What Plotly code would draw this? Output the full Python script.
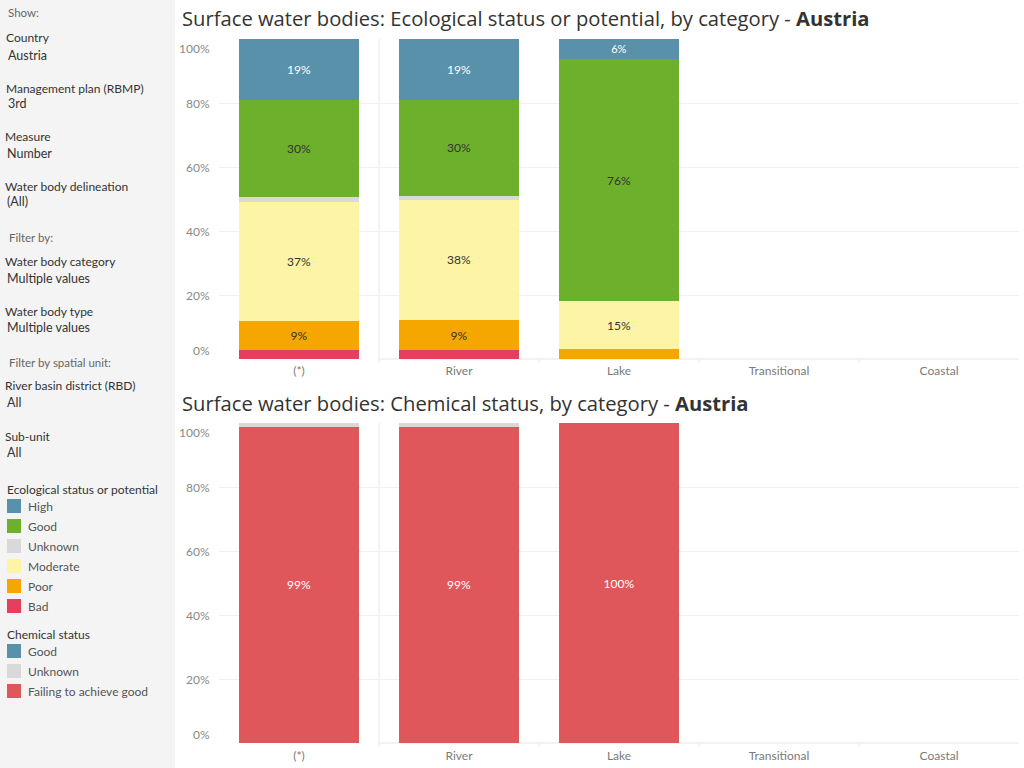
import plotly.graph_objects as go

W, H = 1024, 768
FONT = "Lato"
TITLE_FONT = "Open Sans"

categories = ["(*)", "River", "Lake", "Transitional", "Coastal"]

# Ecological status (% of water bodies), stacked bottom -> top
eco_bad = [2.8, 2.8, 0.0, None, None]
eco_poor = [9.0, 9.4, 3.1, None, None]
eco_moderate = [37.4, 37.6, 14.9, None, None]
eco_unknown = [1.3, 1.2, 0.0, None, None]
eco_good = [30.4, 30.0, 75.8, None, None]
eco_high = [19.1, 19.0, 6.2, None, None]

# Chemical status (%)
chem_failing = [98.8, 98.8, 100.0, None, None]
chem_unknown = [1.2, 1.2, 0.0, None, None]
chem_good = [0.0, 0.0, 0.0, None, None]

y_ticks = [0, 20, 40, 60, 80, 100]
y_tick_labels = ["0%", "20%", "40%", "60%", "80%", "100%"]

C_HIGH = "#5891a9"
C_GOOD = "#6db02c"
C_UNK = "#d9d9d9"
C_MOD = "#fef4a6"
C_POOR = "#f5a700"
C_BAD = "#e53f5e"
C_FAIL = "#e0575b"


def px_x(p):
    return p / W


def px_y(p):
    return 1 - p / H


def labels(vals):
    return [f"{round(v)}%" if (v is not None and v >= 5) else "" for v in vals]


fig = go.Figure()

eco_series = [
    ("Bad", eco_bad, C_BAD, "#333333"),
    ("Poor", eco_poor, C_POOR, "#333333"),
    ("Moderate", eco_moderate, C_MOD, "#333333"),
    ("Unknown", eco_unknown, C_UNK, "#333333"),
    ("Good", eco_good, C_GOOD, "#333333"),
    ("High", eco_high, C_HIGH, "#ffffff"),
]
for name, vals, col, tcol in eco_series:
    fig.add_trace(go.Bar(
        x=categories, y=vals, name=name, marker=dict(color=col, line=dict(width=0)),
        text=labels(vals), texttemplate="%{text}", textposition="inside",
        insidetextanchor="middle", textangle=0,
        textfont=dict(family=FONT, size=12, color=tcol),
        xaxis="x", yaxis="y", showlegend=False,
    ))

chem_series = [
    ("Failing to achieve good", chem_failing, C_FAIL, "#ffffff"),
    ("Unknown", chem_unknown, C_UNK, "#333333"),
    ("Good", chem_good, C_HIGH, "#ffffff"),
]
for name, vals, col, tcol in chem_series:
    fig.add_trace(go.Bar(
        x=categories, y=vals, name=name, marker=dict(color=col, line=dict(width=0)),
        text=labels(vals), texttemplate="%{text}", textposition="inside",
        insidetextanchor="middle", textangle=0,
        textfont=dict(family=FONT, size=12, color=tcol),
        xaxis="x2", yaxis="y2", showlegend=False,
    ))

x_dom = [px_x(219), px_x(1019)]
top_dom = [px_y(359), px_y(39)]
bot_dom = [px_y(743), px_y(423)]

xaxis_common = dict(
    type="category", categoryorder="array", categoryarray=categories,
    range=[-0.5, 4.5], domain=x_dom, showgrid=False, zeroline=False,
    showline=False, ticks="", tickfont=dict(family=FONT, size=12, color="#7a7a7a"),
    ticklabelstandoff=3, fixedrange=True,
)
yaxis_common = dict(
    range=[0, 100], tickvals=y_ticks, showticklabels=False, showgrid=True,
    gridcolor="#f0f0f0", gridwidth=1, zeroline=False, showline=False, fixedrange=True,
)

fig.update_layout(
    width=W, height=H, margin=dict(l=0, r=0, t=0, b=0),
    paper_bgcolor="white", plot_bgcolor="rgba(0,0,0,0)",
    barmode="stack", bargap=0.25,
    font=dict(family=FONT, color="#333333"),
    xaxis=dict(xaxis_common, anchor="y"),
    yaxis=dict(yaxis_common, domain=top_dom, anchor="x"),
    xaxis2=dict(xaxis_common, anchor="y2", ticklabelstandoff=4),
    yaxis2=dict(yaxis_common, domain=bot_dom, anchor="x2"),
    showlegend=False,
)

shapes = []
annotations = []

# left panel background
shapes.append(dict(type="rect", xref="paper", yref="paper", x0=0, x1=px_x(175), y0=0, y1=1,
                   fillcolor="#f4f4f4", line=dict(width=0), layer="below"))

# separators, baselines and small ticks
for xa, ya, dom in [("x", "y", top_dom), ("x2", "y2", bot_dom)]:
    base = dom[0]
    shapes.append(dict(type="line", xref=xa, yref="paper", x0=0.5, x1=0.5, y0=base - 4 / H, y1=dom[1],
                       line=dict(color="#e6e6e6", width=1), layer="below"))
    shapes.append(dict(type="line", xref=xa, yref="paper", x0=0.5, x1=4.5, y0=base, y1=base,
                       line=dict(color="#e6e6e6", width=1), layer="below"))
    for xv in [1.5, 2.5, 3.5]:
        shapes.append(dict(type="line", xref=xa, yref="paper", x0=xv, x1=xv, y0=base - 4 / H, y1=base,
                           line=dict(color="#e6e6e6", width=1), layer="below"))
    # y tick labels
    for v, t in zip(y_ticks, y_tick_labels):
        shift = 9 if v == 0 else (-9 if v == 100 else 0)
        annotations.append(dict(xref="paper", yref=ya, x=px_x(212), y=v, yshift=shift,
                                text=t, showarrow=False, xanchor="right", yanchor="middle",
                                font=dict(family=FONT, size=12, color="#8a8a8a")))

# titles
annotations.append(dict(xref="paper", yref="paper", x=px_x(180), y=px_y(18), xanchor="left", yanchor="middle",
                        text="Surface water bodies: Ecological status or potential, by category - <b>Austria</b>",
                        showarrow=False, font=dict(family=TITLE_FONT, size=20.2, color="#333333")))
annotations.append(dict(xref="paper", yref="paper", x=px_x(180), y=px_y(403), xanchor="left", yanchor="middle",
                        text="Surface water bodies: Chemical status, by category - <b>Austria</b>",
                        showarrow=False, font=dict(family=TITLE_FONT, size=20.2, color="#333333")))

# left panel texts
panel_texts = [
    ("Show:", 6, 12, 11.5, "#666666"),
    ("Country", 4, 38, 12, "#333333"),
    ("Austria", 6, 55, 12.5, "#333333"),
    ("Management plan (RBMP)", 4, 88, 12, "#333333"),
    ("3rd", 6, 104, 12.5, "#333333"),
    ("Measure", 3, 136, 12, "#333333"),
    ("Number", 5, 153, 12.5, "#333333"),
    ("Water body delineation", 3, 186, 12, "#333333"),
    ("(All)", 5, 202, 12.5, "#333333"),
    ("Filter by:", 7, 238, 11.5, "#666666"),
    ("Water body category", 3, 261, 12, "#333333"),
    ("Multiple values", 5, 278, 12.5, "#333333"),
    ("Water body type", 3, 311, 12, "#333333"),
    ("Multiple values", 5, 328, 12.5, "#333333"),
    ("Filter by spatial unit:", 7, 362, 11.5, "#666666"),
    ("River basin district (RBD)", 3, 385, 12, "#333333"),
    ("All", 5, 402, 12.5, "#333333"),
    ("Sub-unit", 3, 436, 12, "#333333"),
    ("All", 5, 452, 12.5, "#333333"),
    ("Ecological status or potential", 5, 489, 12, "#333333"),
    ("Chemical status", 5, 634, 12, "#333333"),
]
for t, x, y, s, c in panel_texts:
    annotations.append(dict(xref="paper", yref="paper", x=px_x(x), y=px_y(y), xanchor="left", yanchor="middle",
                            text=t, showarrow=False, font=dict(family=FONT, size=s, color=c)))

legend_items = [
    ("High", C_HIGH, 506), ("Good", C_GOOD, 526), ("Unknown", C_UNK, 546),
    ("Moderate", C_MOD, 566), ("Poor", C_POOR, 586), ("Bad", C_BAD, 606),
    ("Good", C_HIGH, 651), ("Unknown", C_UNK, 671), ("Failing to achieve good", C_FAIL, 691),
]
for t, c, y in legend_items:
    shapes.append(dict(type="rect", xref="paper", yref="paper", x0=px_x(7), x1=px_x(21),
                       y0=px_y(y + 7), y1=px_y(y - 7), fillcolor=c, line=dict(width=0)))
    annotations.append(dict(xref="paper", yref="paper", x=px_x(26), y=px_y(y), xanchor="left", yanchor="middle",
                            text=t, showarrow=False, font=dict(family=FONT, size=12, color="#555555")))

fig.update_layout(shapes=shapes, annotations=annotations)
fig.write_html("out.html")
